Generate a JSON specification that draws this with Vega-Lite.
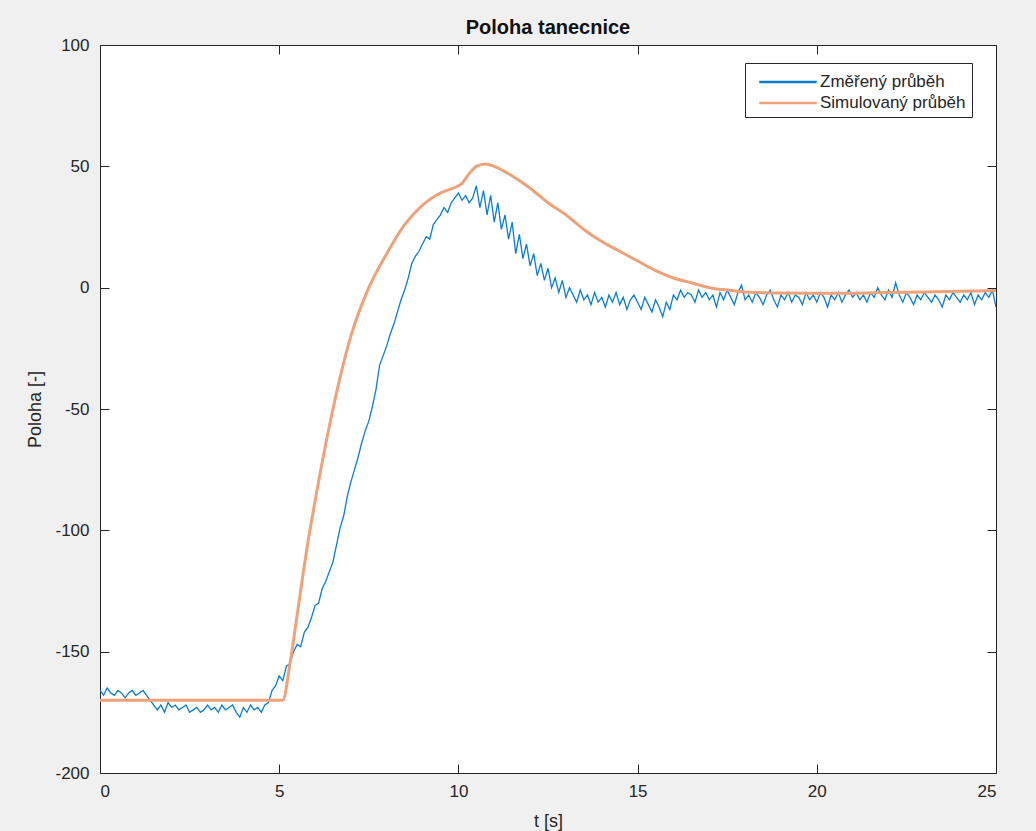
{
  "$schema": "https://vega.github.io/schema/vega-lite/v6.json",
  "width": 896,
  "height": 728,
  "autosize": "none",
  "padding": {"left": 100, "top": 45, "right": 40, "bottom": 58},
  "background": "#f0f0f0",
  "title": {"text": "Poloha tanecnice", "font": "Liberation Sans", "fontSize": 20, "fontWeight": "bold", "color": "#111111", "offset": -2, "anchor": "middle"},
  "config": {
    "view": {"fill": "white", "stroke": null},
    "font": "Liberation Sans",
    "axis": {"grid": false, "domainColor": "#262626", "tickColor": "#262626", "labelColor": "#262626", "titleColor": "#262626", "labelFont": "Liberation Sans", "titleFont": "Liberation Sans", "labelFontSize": 17, "titleFontSize": 18, "titleFontWeight": "normal", "domainWidth": 1, "tickWidth": 1}
  },
  "datasets": {
    "meas": [
      {"t":0.0,"v":-166,"s":"Změřený průběh"},{"t":0.1,"v":-168,"s":"Změřený průběh"},{"t":0.2,"v":-165,"s":"Změřený průběh"},{"t":0.3,"v":-167,"s":"Změřený průběh"},{"t":0.4,"v":-168,"s":"Změřený průběh"},{"t":0.5,"v":-166,"s":"Změřený průběh"},{"t":0.6,"v":-167,"s":"Změřený průběh"},{"t":0.7,"v":-169,"s":"Změřený průběh"},{"t":0.8,"v":-167,"s":"Změřený průběh"},{"t":0.9,"v":-166,"s":"Změřený průběh"},
      {"t":1.0,"v":-168,"s":"Změřený průběh"},{"t":1.1,"v":-167,"s":"Změřený průběh"},{"t":1.2,"v":-166,"s":"Změřený průběh"},{"t":1.3,"v":-168,"s":"Změřený průběh"},{"t":1.4,"v":-170,"s":"Změřený průběh"},{"t":1.5,"v":-172,"s":"Změřený průběh"},{"t":1.6,"v":-174,"s":"Změřený průběh"},{"t":1.7,"v":-172,"s":"Změřený průběh"},{"t":1.8,"v":-175,"s":"Změřený průběh"},{"t":1.9,"v":-171,"s":"Změřený průběh"},
      {"t":2.0,"v":-173,"s":"Změřený průběh"},{"t":2.1,"v":-172,"s":"Změřený průběh"},{"t":2.2,"v":-174,"s":"Změřený průběh"},{"t":2.3,"v":-173,"s":"Změřený průběh"},{"t":2.4,"v":-172,"s":"Změřený průběh"},{"t":2.5,"v":-175,"s":"Změřený průběh"},{"t":2.6,"v":-174,"s":"Změřený průběh"},{"t":2.7,"v":-173,"s":"Změřený průběh"},{"t":2.8,"v":-175,"s":"Změřený průběh"},{"t":2.9,"v":-174,"s":"Změřený průběh"},
      {"t":3.0,"v":-172,"s":"Změřený průběh"},{"t":3.1,"v":-174,"s":"Změřený průběh"},{"t":3.2,"v":-173,"s":"Změřený průběh"},{"t":3.3,"v":-175,"s":"Změřený průběh"},{"t":3.4,"v":-172,"s":"Změřený průběh"},{"t":3.5,"v":-174,"s":"Změřený průběh"},{"t":3.6,"v":-173,"s":"Změřený průběh"},{"t":3.7,"v":-172,"s":"Změřený průběh"},{"t":3.8,"v":-175,"s":"Změřený průběh"},{"t":3.9,"v":-177,"s":"Změřený průběh"},
      {"t":4.0,"v":-173,"s":"Změřený průběh"},{"t":4.1,"v":-175,"s":"Změřený průběh"},{"t":4.2,"v":-172,"s":"Změřený průběh"},{"t":4.3,"v":-174,"s":"Změřený průběh"},{"t":4.4,"v":-173,"s":"Změřený průběh"},{"t":4.5,"v":-175,"s":"Změřený průběh"},{"t":4.6,"v":-172,"s":"Změřený průběh"},{"t":4.7,"v":-171,"s":"Změřený průběh"},{"t":4.8,"v":-166,"s":"Změřený průběh"},{"t":4.9,"v":-164,"s":"Změřený průběh"},
      {"t":5.0,"v":-160,"s":"Změřený průběh"},{"t":5.1,"v":-162,"s":"Změřený průběh"},{"t":5.2,"v":-156,"s":"Změřený průběh"},{"t":5.3,"v":-155,"s":"Změřený průběh"},{"t":5.4,"v":-150,"s":"Změřený průběh"},{"t":5.5,"v":-147,"s":"Změřený průběh"},{"t":5.6,"v":-148,"s":"Změřený průběh"},{"t":5.7,"v":-142,"s":"Změřený průběh"},{"t":5.8,"v":-140,"s":"Změřený průběh"},{"t":5.9,"v":-136,"s":"Změřený průběh"},
      {"t":6.0,"v":-131,"s":"Změřený průběh"},{"t":6.1,"v":-130,"s":"Změřený průběh"},{"t":6.2,"v":-124,"s":"Změřený průběh"},{"t":6.3,"v":-121,"s":"Změřený průběh"},{"t":6.4,"v":-117,"s":"Změřený průběh"},{"t":6.5,"v":-113,"s":"Změřený průběh"},{"t":6.6,"v":-106,"s":"Změřený průběh"},{"t":6.7,"v":-99,"s":"Změřený průběh"},{"t":6.8,"v":-94,"s":"Změřený průběh"},{"t":6.9,"v":-86,"s":"Změřený průběh"},
      {"t":7.0,"v":-80,"s":"Změřený průběh"},{"t":7.1,"v":-75,"s":"Změřený průběh"},{"t":7.2,"v":-70,"s":"Změřený průběh"},{"t":7.3,"v":-64,"s":"Změřený průběh"},{"t":7.4,"v":-59,"s":"Změřený průběh"},{"t":7.5,"v":-55,"s":"Změřený průběh"},{"t":7.6,"v":-49,"s":"Změřený průběh"},{"t":7.7,"v":-42,"s":"Změřený průběh"},{"t":7.8,"v":-32,"s":"Změřený průběh"},{"t":7.9,"v":-28,"s":"Změřený průběh"},
      {"t":8.0,"v":-24,"s":"Změřený průběh"},{"t":8.1,"v":-19,"s":"Změřený průběh"},{"t":8.2,"v":-15,"s":"Změřený průběh"},{"t":8.3,"v":-10,"s":"Změřený průběh"},{"t":8.4,"v":-5,"s":"Změřený průběh"},{"t":8.5,"v":-1,"s":"Změřený průběh"},{"t":8.6,"v":4,"s":"Změřený průběh"},{"t":8.7,"v":10,"s":"Změřený průběh"},{"t":8.8,"v":13,"s":"Změřený průběh"},{"t":8.9,"v":15,"s":"Změřený průběh"},
      {"t":9.0,"v":18,"s":"Změřený průběh"},{"t":9.1,"v":21,"s":"Změřený průběh"},{"t":9.2,"v":20,"s":"Změřený průběh"},{"t":9.3,"v":26,"s":"Změřený průběh"},{"t":9.4,"v":28,"s":"Změřený průběh"},{"t":9.5,"v":30,"s":"Změřený průběh"},{"t":9.6,"v":33,"s":"Změřený průběh"},{"t":9.7,"v":31,"s":"Změřený průběh"},{"t":9.8,"v":35,"s":"Změřený průběh"},{"t":9.9,"v":37,"s":"Změřený průběh"},
      {"t":10.0,"v":39,"s":"Změřený průběh"},{"t":10.1,"v":36,"s":"Změřený průběh"},{"t":10.2,"v":38,"s":"Změřený průběh"},{"t":10.3,"v":35,"s":"Změřený průběh"},{"t":10.4,"v":37,"s":"Změřený průběh"},{"t":10.5,"v":42,"s":"Změřený průběh"},{"t":10.6,"v":33,"s":"Změřený průběh"},{"t":10.7,"v":40,"s":"Změřený průběh"},{"t":10.8,"v":30,"s":"Změřený průběh"},{"t":10.9,"v":38,"s":"Změřený průběh"},
      {"t":11.0,"v":27,"s":"Změřený průběh"},{"t":11.1,"v":35,"s":"Změřený průběh"},{"t":11.2,"v":24,"s":"Změřený průběh"},{"t":11.3,"v":30,"s":"Změřený průběh"},{"t":11.4,"v":20,"s":"Změřený průběh"},{"t":11.5,"v":27,"s":"Změřený průběh"},{"t":11.6,"v":14,"s":"Změřený průběh"},{"t":11.7,"v":22,"s":"Změřený průběh"},{"t":11.8,"v":12,"s":"Změřený průběh"},{"t":11.9,"v":18,"s":"Změřený průběh"},
      {"t":12.0,"v":9,"s":"Změřený průběh"},{"t":12.1,"v":14,"s":"Změřený průběh"},{"t":12.2,"v":5,"s":"Změřený průběh"},{"t":12.3,"v":10,"s":"Změřený průběh"},{"t":12.4,"v":3,"s":"Změřený průběh"},{"t":12.5,"v":8,"s":"Změřený průběh"},{"t":12.6,"v":0,"s":"Změřený průběh"},{"t":12.7,"v":4,"s":"Změřený průběh"},{"t":12.8,"v":-2,"s":"Změřený průběh"},{"t":12.9,"v":3,"s":"Změřený průběh"},
      {"t":13.0,"v":-4,"s":"Změřený průběh"},{"t":13.1,"v":0,"s":"Změřený průběh"},{"t":13.2,"v":-3,"s":"Změřený průběh"},{"t":13.3,"v":-6,"s":"Změřený průběh"},{"t":13.4,"v":-1,"s":"Změřený průběh"},{"t":13.5,"v":-5,"s":"Změřený průběh"},{"t":13.6,"v":-3,"s":"Změřený průběh"},{"t":13.7,"v":-7,"s":"Změřený průběh"},{"t":13.8,"v":-2,"s":"Změřený průběh"},{"t":13.9,"v":-6,"s":"Změřený průběh"},
      {"t":14.0,"v":-4,"s":"Změřený průběh"},{"t":14.1,"v":-8,"s":"Změřený průběh"},{"t":14.2,"v":-3,"s":"Změřený průběh"},{"t":14.3,"v":-6,"s":"Změřený průběh"},{"t":14.4,"v":-2,"s":"Změřený průběh"},{"t":14.5,"v":-7,"s":"Změřený průběh"},{"t":14.6,"v":-4,"s":"Změřený průběh"},{"t":14.7,"v":-9,"s":"Změřený průběh"},{"t":14.8,"v":-5,"s":"Změřený průběh"},{"t":14.9,"v":-3,"s":"Změřený průběh"},
      {"t":15.0,"v":-6,"s":"Změřený průběh"},{"t":15.1,"v":-9,"s":"Změřený průběh"},{"t":15.2,"v":-4,"s":"Změřený průběh"},{"t":15.3,"v":-7,"s":"Změřený průběh"},{"t":15.4,"v":-10,"s":"Změřený průběh"},{"t":15.5,"v":-5,"s":"Změřený průběh"},{"t":15.6,"v":-8,"s":"Změřený průběh"},{"t":15.7,"v":-12,"s":"Změřený průběh"},{"t":15.8,"v":-6,"s":"Změřený průběh"},{"t":15.9,"v":-9,"s":"Změřený průběh"},
      {"t":16.0,"v":-3,"s":"Změřený průběh"},{"t":16.1,"v":-5,"s":"Změřený průběh"},{"t":16.2,"v":-1,"s":"Změřený průběh"},{"t":16.3,"v":-4,"s":"Změřený průběh"},{"t":16.4,"v":-2,"s":"Změřený průběh"},{"t":16.5,"v":-3,"s":"Změřený průběh"},{"t":16.6,"v":-6,"s":"Změřený průběh"},{"t":16.7,"v":-1,"s":"Změřený průběh"},{"t":16.8,"v":-4,"s":"Změřený průběh"},{"t":16.9,"v":-2,"s":"Změřený průběh"},
      {"t":17.0,"v":-5,"s":"Změřený průběh"},{"t":17.1,"v":-3,"s":"Změřený průběh"},{"t":17.2,"v":-8,"s":"Změřený průběh"},{"t":17.3,"v":-2,"s":"Změřený průběh"},{"t":17.4,"v":-5,"s":"Změřený průběh"},{"t":17.5,"v":-1,"s":"Změřený průběh"},{"t":17.6,"v":-4,"s":"Změřený průběh"},{"t":17.7,"v":-7,"s":"Změřený průběh"},{"t":17.8,"v":-2,"s":"Změřený průběh"},{"t":17.9,"v":1,"s":"Změřený průběh"},
      {"t":18.0,"v":-5,"s":"Změřený průběh"},{"t":18.1,"v":-3,"s":"Změřený průběh"},{"t":18.2,"v":-6,"s":"Změřený průběh"},{"t":18.3,"v":-2,"s":"Změřený průběh"},{"t":18.4,"v":-4,"s":"Změřený průběh"},{"t":18.5,"v":-7,"s":"Změřený průběh"},{"t":18.6,"v":-3,"s":"Změřený průběh"},{"t":18.7,"v":-1,"s":"Změřený průběh"},{"t":18.8,"v":-5,"s":"Změřený průběh"},{"t":18.9,"v":-8,"s":"Změřený průběh"},
      {"t":19.0,"v":-3,"s":"Změřený průběh"},{"t":19.1,"v":-5,"s":"Změřený průběh"},{"t":19.2,"v":-2,"s":"Změřený průběh"},{"t":19.3,"v":-6,"s":"Změřený průběh"},{"t":19.4,"v":-3,"s":"Změřený průběh"},{"t":19.5,"v":-4,"s":"Změřený průběh"},{"t":19.6,"v":-7,"s":"Změřený průběh"},{"t":19.7,"v":-2,"s":"Změřený průběh"},{"t":19.8,"v":-5,"s":"Změřený průběh"},{"t":19.9,"v":-3,"s":"Změřený průběh"},
      {"t":20.0,"v":-6,"s":"Změřený průběh"},{"t":20.1,"v":-2,"s":"Změřený průběh"},{"t":20.2,"v":-4,"s":"Změřený průběh"},{"t":20.3,"v":-8,"s":"Změřený průběh"},{"t":20.4,"v":-3,"s":"Změřený průběh"},{"t":20.5,"v":-5,"s":"Změřený průběh"},{"t":20.6,"v":-2,"s":"Změřený průběh"},{"t":20.7,"v":-6,"s":"Změřený průběh"},{"t":20.8,"v":-3,"s":"Změřený průběh"},{"t":20.9,"v":-1,"s":"Změřený průběh"},
      {"t":21.0,"v":-4,"s":"Změřený průběh"},{"t":21.1,"v":-2,"s":"Změřený průběh"},{"t":21.2,"v":-5,"s":"Změřený průběh"},{"t":21.3,"v":-3,"s":"Změřený průběh"},{"t":21.4,"v":-6,"s":"Změřený průběh"},{"t":21.5,"v":-2,"s":"Změřený průběh"},{"t":21.6,"v":-4,"s":"Změřený průběh"},{"t":21.7,"v":0,"s":"Změřený průběh"},{"t":21.8,"v":-3,"s":"Změřený průběh"},{"t":21.9,"v":-5,"s":"Změřený průběh"},
      {"t":22.0,"v":-1,"s":"Změřený průběh"},{"t":22.1,"v":-4,"s":"Změřený průběh"},{"t":22.2,"v":2,"s":"Změřený průběh"},{"t":22.3,"v":-3,"s":"Změřený průběh"},{"t":22.4,"v":-6,"s":"Změřený průběh"},{"t":22.5,"v":-2,"s":"Změřený průběh"},{"t":22.6,"v":-4,"s":"Změřený průběh"},{"t":22.7,"v":-7,"s":"Změřený průběh"},{"t":22.8,"v":-3,"s":"Změřený průběh"},{"t":22.9,"v":-5,"s":"Změřený průběh"},
      {"t":23.0,"v":-2,"s":"Změřený průběh"},{"t":23.1,"v":-4,"s":"Změřený průběh"},{"t":23.2,"v":-6,"s":"Změřený průběh"},{"t":23.3,"v":-3,"s":"Změřený průběh"},{"t":23.4,"v":-5,"s":"Změřený průběh"},{"t":23.5,"v":-8,"s":"Změřený průběh"},{"t":23.6,"v":-3,"s":"Změřený průběh"},{"t":23.7,"v":-5,"s":"Změřený průběh"},{"t":23.8,"v":-2,"s":"Změřený průběh"},{"t":23.9,"v":-4,"s":"Změřený průběh"},
      {"t":24.0,"v":-6,"s":"Změřený průběh"},{"t":24.1,"v":-3,"s":"Změřený průběh"},{"t":24.2,"v":-5,"s":"Změřený průběh"},{"t":24.3,"v":-2,"s":"Změřený průběh"},{"t":24.4,"v":-7,"s":"Změřený průběh"},{"t":24.5,"v":-3,"s":"Změřený průběh"},{"t":24.6,"v":-5,"s":"Změřený průběh"},{"t":24.7,"v":-2,"s":"Změřený průběh"},{"t":24.8,"v":-4,"s":"Změřený průběh"},{"t":24.9,"v":-1,"s":"Změřený průběh"},
      {"t":25.0,"v":-8,"s":"Změřený průběh"}
    ],
    "sim": [
      {"t":0,"v":-170,"s":"Simulovaný průběh"},{"t":5.0,"v":-170,"s":"Simulovaný průběh"},{"t":5.1,"v":-170,"s":"Simulovaný průběh"},{"t":5.3,"v":-155,"s":"Simulovaný průběh"},{"t":5.5,"v":-135,"s":"Simulovaný průběh"},{"t":5.8,"v":-105,"s":"Simulovaný průběh"},{"t":6.0,"v":-88,"s":"Simulovaný průběh"},{"t":6.5,"v":-50,"s":"Simulovaný průběh"},{"t":7.0,"v":-20,"s":"Simulovaný průběh"},{"t":7.5,"v":0,"s":"Simulovaný průběh"},{"t":8.0,"v":14,"s":"Simulovaný průběh"},{"t":8.5,"v":26,"s":"Simulovaný průběh"},{"t":9.0,"v":34,"s":"Simulovaný průběh"},{"t":9.5,"v":39,"s":"Simulovaný průběh"},{"t":10.0,"v":42,"s":"Simulovaný průběh"},{"t":10.1,"v":43,"s":"Simulovaný průběh"},{"t":10.3,"v":47,"s":"Simulovaný průběh"},{"t":10.5,"v":50,"s":"Simulovaný průběh"},{"t":10.75,"v":51,"s":"Simulovaný průběh"},{"t":11.0,"v":50,"s":"Simulovaný průběh"},{"t":11.5,"v":46,"s":"Simulovaný průběh"},{"t":12.0,"v":41,"s":"Simulovaný průběh"},{"t":12.5,"v":35,"s":"Simulovaný průběh"},{"t":13.0,"v":30,"s":"Simulovaný průběh"},{"t":13.5,"v":24,"s":"Simulovaný průběh"},{"t":14.0,"v":19,"s":"Simulovaný průběh"},{"t":14.5,"v":15,"s":"Simulovaný průběh"},{"t":15.0,"v":11,"s":"Simulovaný průběh"},{"t":15.5,"v":7,"s":"Simulovaný průběh"},{"t":16.0,"v":4,"s":"Simulovaný průběh"},{"t":16.5,"v":2,"s":"Simulovaný průběh"},{"t":17.0,"v":0,"s":"Simulovaný průběh"},{"t":17.5,"v":-1,"s":"Simulovaný průběh"},{"t":18.0,"v":-1.8,"s":"Simulovaný průběh"},{"t":19.0,"v":-2.2,"s":"Simulovaný průběh"},{"t":20.0,"v":-2.3,"s":"Simulovaný průběh"},{"t":21.0,"v":-2.3,"s":"Simulovaný průběh"},{"t":22.0,"v":-2,"s":"Simulovaný průběh"},{"t":23.0,"v":-1.8,"s":"Simulovaný průběh"},{"t":24.0,"v":-1.5,"s":"Simulovaný průběh"},{"t":25.0,"v":-1.2,"s":"Simulovaný průběh"}
    ]
  },
  "layer": [
    {
      "data": {"name": "meas"},
      "mark": {"type": "line", "strokeWidth": 1.3, "clip": true},
      "encoding": {
        "x": {"field": "t", "type": "quantitative", "scale": {"domain": [0, 25], "nice": false, "zero": false}, "axis": {"orient": "bottom", "values": [0,5,10,15,20,25], "tickSize": -9, "labelPadding": 19, "labelExpr": "'' + datum.value", "title": "t [s]", "titlePadding": 13}},
        "y": {"field": "v", "type": "quantitative", "scale": {"domain": [-200, 100], "nice": false, "zero": false}, "axis": {"orient": "left", "values": [-200,-150,-100,-50,0,50,100], "tickSize": -9, "labelPadding": 20, "labelExpr": "'' + datum.value", "title": "Poloha [-]", "titlePadding": 10}},
        "color": {"field": "s", "type": "nominal", "scale": {"domain": ["Změřený průběh", "Simulovaný průběh"], "range": ["#0b7dcf", "#efa27a"]}, "legend": {"orient": "none", "legendX": 645, "legendY": 18, "title": null, "symbolType": "M-2.5,0H2.5", "symbolSize": 529, "symbolStrokeWidth": 2.5, "symbolOffset": 24, "labelFontSize": 17, "labelColor": "#262626", "strokeColor": "#262626", "fillColor": "white", "padding": 6, "rowPadding": 0, "labelOffset": 19, "labelFont": "Liberation Sans", "labelLimit": 300}}
      }
    },
    {
      "data": {"name": "sim"},
      "mark": {"type": "line", "strokeWidth": 3, "clip": true, "interpolate": "monotone"},
      "encoding": {
        "x": {"field": "t", "type": "quantitative", "axis": {"orient": "top", "values": [0,5,10,15,20,25], "tickSize": -9, "labels": false, "title": null}},
        "y": {"field": "v", "type": "quantitative", "axis": {"orient": "right", "values": [-200,-150,-100,-50,0,50,100], "tickSize": -9, "labels": false, "title": null}},
        "color": {"field": "s", "type": "nominal"}
      }
    }
  ],
  "resolve": {"axis": {"x": "independent", "y": "independent"}}
}
